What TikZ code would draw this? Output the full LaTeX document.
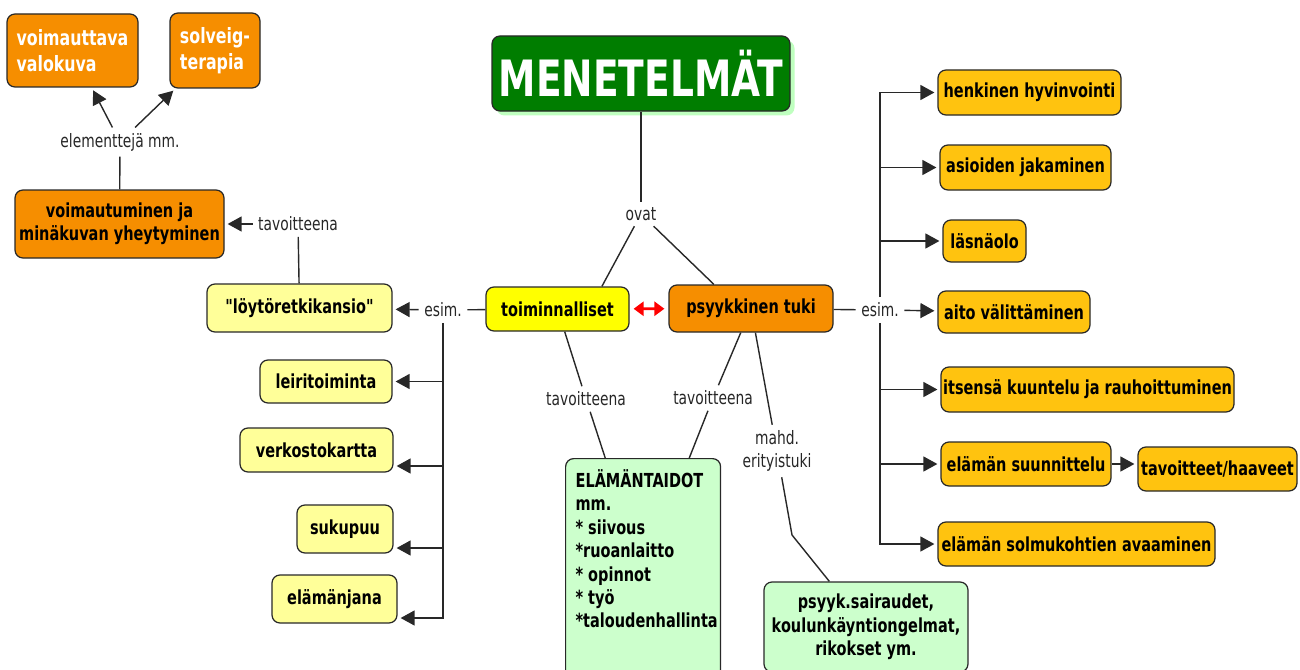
\documentclass[tikz,border=0pt]{standalone}
\usepackage{fontspec}
\setmainfont{DejaVu Sans}[FakeStretch=0.75, Ligatures=TeXOff]
\usetikzlibrary{positioning, calc, shapes, arrows.meta, shadows}

\definecolor{otsikko}{RGB}{0,125,0}
\definecolor{oranssi}{RGB}{246,142,0}
\definecolor{keltainen}{RGB}{255,255,0}
\definecolor{vaalkelt}{RGB}{255,255,153}
\definecolor{kulta}{RGB}{255,195,15}
\definecolor{vaalvihr}{RGB}{204,255,204}
\definecolor{viiva}{RGB}{40,40,40}

\begin{document}
\begin{tikzpicture}[x=0.02cm, y=-0.02cm,
  box/.style={draw=viiva, line width=0.7pt, rounded corners=0.16cm, inner sep=0pt,
    font=\bfseries\fontsize{11}{13.3}\selectfont, align=center},
  sz/.style 2 args={minimum width=#1*0.02cm, minimum height=#2*0.02cm},
  lbl/.style={font=\fontsize{10.5}{13.3}\selectfont, inner sep=3pt, align=center, text=black!85},
  yhd/.style={draw=viiva, line width=0.8pt},
  nuoli/.style={yhd, -{Triangle[length=0.28cm,width=0.3cm]}, shorten >=0.06cm},
  kaksi/.style={red, line width=1.6pt, {Triangle[length=0.2cm,width=0.28cm]}-{Triangle[length=0.2cm,width=0.28cm]},
    shorten >=0.08cm, shorten <=0.08cm}]
  \clip (0,0) rectangle (1300,669);

  % otsikko ja paahaarat
  \node[box, fill=otsikko, text=white, font=\bfseries\fontsize{28.5}{30}\selectfont, sz={298}{75},
    drop shadow={fill=green!25, opacity=1, shadow xshift=0.09cm, shadow yshift=-0.09cm}] (menetelmat) at (641,73.5) {MENETELMÄT};
  \node[lbl] (ovat) at (641,214) {ovat};
  \node[box, fill=keltainen, sz={143}{44}] (toim) at (557.5,309) {toiminnalliset};
  \node[box, fill=oranssi, sz={164}{47}] (psyk) at (751,308.5) {psyykkinen tuki};

  % vasen puoli
  \node[box, fill=oranssi, text=white, align=left, font=\bfseries\fontsize{12}{14.8}\selectfont, sz={131}{73}] (valokuva) at (72.5,50.5) {voimauttava\\valokuva};
  \node[box, fill=oranssi, text=white, align=left, font=\bfseries\fontsize{12}{14.8}\selectfont, sz={90}{75}] (solveig) at (215,50.5) {solveig-\\terapia};
  \node[lbl] (elem) at (120,142) {elementtejä mm.};
  \node[box, fill=oranssi, sz={209}{68}] (voimaut) at (119.5,224) {voimautuminen ja\\minäkuvan yheytyminen};
  \node[lbl] (tavL) at (298,224) {tavoitteena};
  \node[box, fill=vaalkelt, sz={185}{48}] (loyto) at (299.5,308) {"löytöretkikansio"};
  \node[lbl] (esimL) at (443,310) {esim.};
  \node[box, fill=vaalkelt, sz={132}{43}] (leiri) at (326,381.5) {leiritoiminta};
  \node[box, fill=vaalkelt, sz={153}{44}] (verkosto) at (316.5,450) {verkostokartta};
  \node[box, fill=vaalkelt, sz={96}{48}] (sukupuu) at (345,529) {sukupuu};
  \node[box, fill=vaalkelt, sz={125}{48}] (elamanjana) at (334.5,599) {elämänjana};

  % keskiosa
  \node[lbl] (tavM1) at (586,399) {tavoitteena};
  \node[lbl] (tavM2) at (713,398) {tavoitteena};
  \node[lbl] (mahd) at (777,451) {mahd.\\erityistuki};
  \node[box, fill=vaalvihr, anchor=north west, inner xsep=0.2cm, inner ysep=0.22cm, align=left] (taidot) at (565,458)
    {\parbox[t][4.2cm][t]{2.7cm}{ELÄMÄNTAIDOT\\mm.\\{*} siivous\\{*}ruoanlaitto\\{*} opinnot\\{*} työ\\{*}taloudenhallinta}};
  \node[box, fill=vaalvihr, sz={204}{90}] (sairaus) at (866,627) {psyyk.sairaudet,\\koulunkäyntiongelmat,\\rikokset ym.};
  \coordinate (mutka) at (792,535);

  % oikea puoli
  \node[lbl] (esimR) at (880,310) {esim.};
  \node[box, fill=kulta, sz={183}{45}] (henk) at (1029.5,92.5) {henkinen hyvinvointi};
  \node[box, fill=kulta, sz={171}{45}] (asiat) at (1025.5,167.5) {asioiden jakaminen};
  \node[box, fill=kulta, sz={83}{42}] (lasna) at (984.5,241) {läsnäolo};
  \node[box, fill=kulta, sz={152}{42}] (aito) at (1014,312) {aito välittäminen};
  \node[box, fill=kulta, sz={293}{45}] (itsensa) at (1087.5,389.5) {itsensä kuuntelu ja rauhoittuminen};
  \node[box, fill=kulta, sz={170}{44}] (suunn) at (1026,464) {elämän suunnittelu};
  \node[box, fill=kulta, sz={159}{44}] (haaveet) at (1217.5,469) {tavoitteet/haaveet};
  \node[box, fill=kulta, sz={277}{44}] (solmu) at (1076.5,544) {elämän solmukohtien avaaminen};

  % yhteydet
  \draw[yhd] (menetelmat) -- (ovat);
  \draw[yhd] (ovat) -- (toim.27);
  \draw[yhd] (ovat) -- (psyk.147);
  \draw[kaksi] (toim) -- (psyk);

  \draw[nuoli] (elem) -- (valokuva);
  \draw[nuoli] (elem) -- (solveig);
  \draw[yhd] (elem) -- (voimaut);
  \draw[nuoli] (tavL) -- (voimaut);
  \draw[yhd] (tavL) -- (loyto);
  \draw[yhd] (toim) -- (esimL);
  \draw[nuoli] (esimL) -- (loyto);
  \coordinate (leiri-in) at (leiri.east);
  \coordinate (verkosto-in) at ($(verkosto.east)+(0,16)$);
  \coordinate (sukupuu-in) at ($(sukupuu.east)+(0,19)$);
  \coordinate (elamanjana-in) at ($(elamanjana.east)+(0,19)$);
  \foreach \n in {leiri, verkosto, sukupuu}
    \draw[nuoli] (esimL.south |- \n-in) -- (\n-in);
  \draw[nuoli] (esimL.south) |- (elamanjana-in);

  \draw[yhd] (toim) -- (tavM1);
  \draw[yhd] (tavM1) -- (taidot);
  \draw[yhd] (psyk) -- (tavM2);
  \draw[yhd] (tavM2) -- (taidot);
  \draw[yhd] (psyk) -- (mahd);
  \draw[yhd] (mahd) -- (mutka) -- (sairaus);

  \draw[yhd] (psyk) -- (esimR);
  \draw[nuoli] (esimR) -- (aito);
  \draw[nuoli] (esimR.north) |- (henk.west);
  \foreach \n in {asiat, lasna, itsensa, suunn}
    \draw[nuoli] (esimR.north |- \n.west) -- (\n.west);
  \draw[nuoli] (esimR.south) |- (solmu.west);
  \draw[nuoli] (suunn) -- (suunn -| haaveet.west);
\end{tikzpicture}
\end{document}
